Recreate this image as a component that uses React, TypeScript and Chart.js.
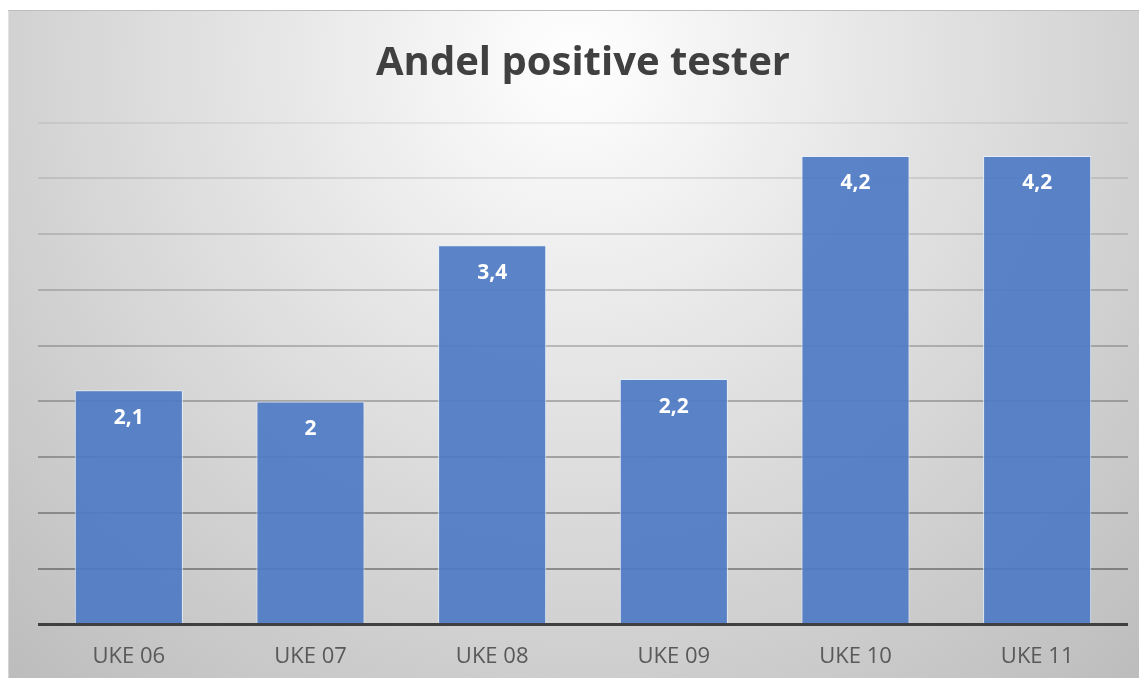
import React, { useEffect, useRef } from "react";
import { Chart, registerables } from "chart.js";

Chart.register(...registerables);

const categories = ["UKE 06", "UKE 07", "UKE 08", "UKE 09", "UKE 10", "UKE 11"];
const values = [2.1, 2, 3.4, 2.2, 4.2, 4.2];
const titleText = "Andel positive tester";
const yMin = 0;
const yMax = 4.5;
const yStep = 0.5;

const FONT = "'Open Sans', 'Noto Sans', sans-serif";

const bgPlugin = {
  id: "bgPlugin",
  beforeDraw(chart: any) {
    const { ctx, width, height } = chart;
    ctx.save();
    ctx.fillStyle = "#ffffff";
    ctx.fillRect(0, 0, width, height);
    const g = ctx.createRadialGradient(567, 50, 0, 567, 50, 870);
    g.addColorStop(0, "#ffffff");
    g.addColorStop(0.35, "#e6e6e6");
    g.addColorStop(1, "#bababa");
    ctx.fillStyle = g;
    ctx.fillRect(0, 2, width, height - 2);
    ctx.fillStyle = "#bdbdbd";
    ctx.fillRect(0, 2, width, 1);
    ctx.fillStyle = "rgba(255,255,255,0.35)";
    ctx.fillRect(0, 3, 1, height - 3);
    // title
    ctx.fillStyle = "#404040";
    ctx.font = `bold 40px ${FONT}`;
    ctx.textAlign = "center";
    ctx.textBaseline = "middle";
    ctx.fillText(titleText, 575, 56);
    ctx.restore();
  },
  afterDatasetsDraw(chart: any) {
    const { ctx, chartArea } = chart;
    const meta = chart.getDatasetMeta(0);
    ctx.save();
    // baseline
    ctx.fillStyle = "#404040";
    const yb = chart.scales.y.getPixelForValue(0);
    ctx.fillRect(chartArea.left, yb - 1.5, chartArea.right - chartArea.left, 3);
    // data labels
    ctx.fillStyle = "#ffffff";
    ctx.font = `bold 21px ${FONT}`;
    ctx.textAlign = "center";
    ctx.textBaseline = "middle";
    meta.data.forEach((bar: any, i: number) => {
      const label = String(values[i]).replace(".", ",");
      ctx.fillText(label, bar.x, bar.y + 27.5);
    });
    ctx.restore();
  },
};

export default function App() {
  const ref = useRef<HTMLCanvasElement | null>(null);
  useEffect(() => {
    if (!ref.current) return;
    const chart = new Chart(ref.current, {
      type: "bar",
      data: {
        labels: categories,
        datasets: [
          {
            data: values,
            backgroundColor: "rgba(79,123,197,0.93)",
            borderColor: "rgba(230,238,252,0.9)",
            borderWidth: 1,
            borderSkipped: "bottom",
            categoryPercentage: 1,
            barPercentage: 0.595,
          },
        ],
      },
      options: {
        animation: false,
        responsive: false,
        maintainAspectRatio: false,
        layout: { padding: { left: 30, right: 19, top: 114.5, bottom: 0 } },
        plugins: {
          legend: { display: false },
          tooltip: { enabled: false },
          title: { display: false },
        },
        scales: {
          x: {
            grid: { display: false, drawTicks: false },
            border: { display: false },
            ticks: {
              color: "#595959",
              font: { family: FONT, size: 22 },
              padding: 19,
              maxRotation: 0,
            },
            afterFit: (s: any) => {
              s.height = 53.5;
            },
          },
          y: {
            min: yMin,
            max: yMax,
            ticks: { display: false, stepSize: yStep },
            border: { display: false },
            grid: {
              drawTicks: false,
              lineWidth: 2,
              color: (c: any) => {
                const v = c.tick ? c.tick.value : 0;
                const t = 1 - v / yMax;
                const a = 0.06 + 0.32 * t;
                return `rgba(0,0,0,${a.toFixed(3)})`;
              },
            },
            afterFit: (s: any) => {
              s.width = 0;
            },
          },
        },
      },
      plugins: [bgPlugin],
    });
    return () => chart.destroy();
  }, []);
  return (
    <div style={{ width: 1139, height: 670, position: "relative" }}>
      <canvas ref={ref} width={1139} height={670} style={{ display: "block" }} />
    </div>
  );
}
